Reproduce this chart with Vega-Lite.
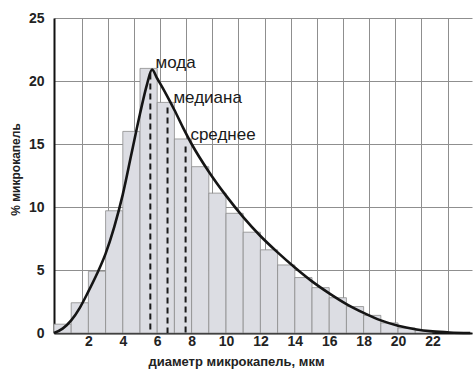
{
  "$schema": "https://vega.github.io/schema/vega-lite/v6.json",
  "width": 418,
  "height": 315,
  "autosize": {"type": "none"},
  "padding": {"left": 54, "top": 18, "right": 3, "bottom": 37},
  "background": "#ffffff",
  "config": {
    "view": {"stroke": null},
    "font": "Liberation Sans",
    "axis": {"labelFont": "Liberation Sans", "titleFont": "Liberation Sans"}
  },
  "datasets": {
    "bars": [
      {"x0": 0, "x1": 1, "pct": 0.7},
      {"x0": 1, "x1": 2, "pct": 2.4},
      {"x0": 2, "x1": 3, "pct": 4.9},
      {"x0": 3, "x1": 4, "pct": 9.7},
      {"x0": 4, "x1": 5, "pct": 16.0},
      {"x0": 5, "x1": 6, "pct": 21.0},
      {"x0": 6, "x1": 7, "pct": 18.3},
      {"x0": 7, "x1": 8, "pct": 15.4},
      {"x0": 8, "x1": 9, "pct": 13.2},
      {"x0": 9, "x1": 10, "pct": 11.1},
      {"x0": 10, "x1": 11, "pct": 9.5},
      {"x0": 11, "x1": 12, "pct": 8.0},
      {"x0": 12, "x1": 13, "pct": 6.6},
      {"x0": 13, "x1": 14, "pct": 5.4},
      {"x0": 14, "x1": 15, "pct": 4.4},
      {"x0": 15, "x1": 16, "pct": 3.6},
      {"x0": 16, "x1": 17, "pct": 2.8},
      {"x0": 17, "x1": 18, "pct": 2.1},
      {"x0": 18, "x1": 19, "pct": 1.4},
      {"x0": 19, "x1": 20, "pct": 0.8},
      {"x0": 20, "x1": 21, "pct": 0.4},
      {"x0": 21, "x1": 22, "pct": 0.2}
    ],
    "curve": [
      {"d": 0, "pct": 0},
      {"d": 0.5, "pct": 0.35},
      {"d": 1, "pct": 1.0},
      {"d": 1.5, "pct": 2.0},
      {"d": 2, "pct": 3.3},
      {"d": 2.5, "pct": 4.7},
      {"d": 3, "pct": 6.3},
      {"d": 3.5, "pct": 8.4},
      {"d": 4, "pct": 11.0},
      {"d": 4.5, "pct": 14.2},
      {"d": 5, "pct": 17.4},
      {"d": 5.4, "pct": 19.7},
      {"d": 5.7, "pct": 20.9},
      {"d": 6, "pct": 20.2},
      {"d": 6.5, "pct": 19.0},
      {"d": 7, "pct": 17.7},
      {"d": 7.5, "pct": 16.3},
      {"d": 8, "pct": 15.0},
      {"d": 9, "pct": 12.8},
      {"d": 10, "pct": 10.9},
      {"d": 11, "pct": 9.2},
      {"d": 12, "pct": 7.7},
      {"d": 13, "pct": 6.4},
      {"d": 14, "pct": 5.2},
      {"d": 15, "pct": 4.1},
      {"d": 16, "pct": 3.15},
      {"d": 17, "pct": 2.3},
      {"d": 18, "pct": 1.6},
      {"d": 19, "pct": 1.0},
      {"d": 20, "pct": 0.58},
      {"d": 21, "pct": 0.3},
      {"d": 22, "pct": 0.13},
      {"d": 23, "pct": 0.04},
      {"d": 24.2, "pct": 0}
    ],
    "stats": [
      {"name": "мода", "d": 5.6, "top": 20.6, "base": 0, "lx": 5.9, "ly": 21.4},
      {"name": "медиана", "d": 6.6, "top": 17.9, "base": 0, "lx": 6.94, "ly": 18.65},
      {"name": "среднее", "d": 7.65, "top": 14.8, "base": 0, "lx": 7.93, "ly": 15.7}
    ]
  },
  "layer": [
    {
      "data": {"name": "bars"},
      "mark": {"type": "rect", "fill": "#dcdde3", "stroke": "#8c8c8c", "strokeWidth": 0.8},
      "encoding": {
        "x": {
          "field": "x0", "type": "quantitative",
          "scale": {"domain": [0, 24.3], "nice": false, "zero": false},
          "axis": {
            "values": [1.6, 2, 3.12, 4, 4.64, 6, 6.16, 7.68, 8, 9.2, 10, 10.72, 12, 12.24, 13.76, 14, 15.28, 16, 16.8, 18, 18.32, 19.84, 20, 21.36, 22, 22.88],
            "tickCount": 100,
            "labelExpr": "datum.value % 2 == 0 ? toString(datum.value) : ''",
            "labelOverlap": false,
            "grid": true, "gridColor": "#8f8f8f", "gridWidth": 1,
            "gridOpacity": {"condition": {"test": "datum.value % 2 == 0", "value": 0}, "value": 1},
            "ticks": false,
            "domain": true, "domainColor": "#111111", "domainWidth": 2.2,
            "labelFontSize": 14, "labelFontWeight": "bold", "labelColor": "#222222", "labelPadding": 1,
            "title": "диаметр микрокапель, мкм",
            "titleFontSize": 13, "titleFontWeight": "bold", "titleColor": "#222222",
            "titleX": 182, "titleY": 28, "titleAlign": "center", "titleBaseline": "middle"
          }
        },
        "x2": {"field": "x1"},
        "y": {
          "field": "pct", "type": "quantitative",
          "scale": {"domain": [0, 25], "nice": false},
          "axis": {
            "values": [0, 5, 10, 15, 20, 25],
            "tickCount": 100,
            "labelExpr": "toString(datum.value)",
            "grid": true, "gridColor": "#8f8f8f", "gridWidth": 1,
            "ticks": false,
            "domain": true, "domainColor": "#111111", "domainWidth": 2,
            "labelFontSize": 14, "labelFontWeight": "bold", "labelColor": "#222222", "labelPadding": 10,
            "title": "% микрокапель",
            "titleFontSize": 12, "titleFontWeight": "bold", "titleColor": "#222222",
            "titleX": -39, "titleY": 151, "titleAlign": "center", "titleBaseline": "middle", "titleAngle": 270
          }
        },
        "y2": {"value": 315}
      }
    },
    {
      "data": {"name": "stats"},
      "mark": {"type": "rule", "strokeDash": [6, 4], "strokeWidth": 2, "color": "#1a1a1a"},
      "encoding": {
        "x": {"field": "d", "type": "quantitative"},
        "y": {"field": "top", "type": "quantitative"},
        "y2": {"field": "base"}
      }
    },
    {
      "data": {"name": "curve"},
      "mark": {"type": "line", "interpolate": "monotone", "color": "#151515", "strokeWidth": 2.6},
      "encoding": {
        "x": {"field": "d", "type": "quantitative"},
        "y": {"field": "pct", "type": "quantitative"}
      }
    },
    {
      "data": {"name": "stats"},
      "mark": {"type": "text", "align": "left", "baseline": "middle", "fontSize": 17, "color": "#1a1a1a", "font": "Liberation Sans"},
      "encoding": {
        "x": {"field": "lx", "type": "quantitative"},
        "y": {"field": "ly", "type": "quantitative"},
        "text": {"field": "name"}
      }
    }
  ]
}
